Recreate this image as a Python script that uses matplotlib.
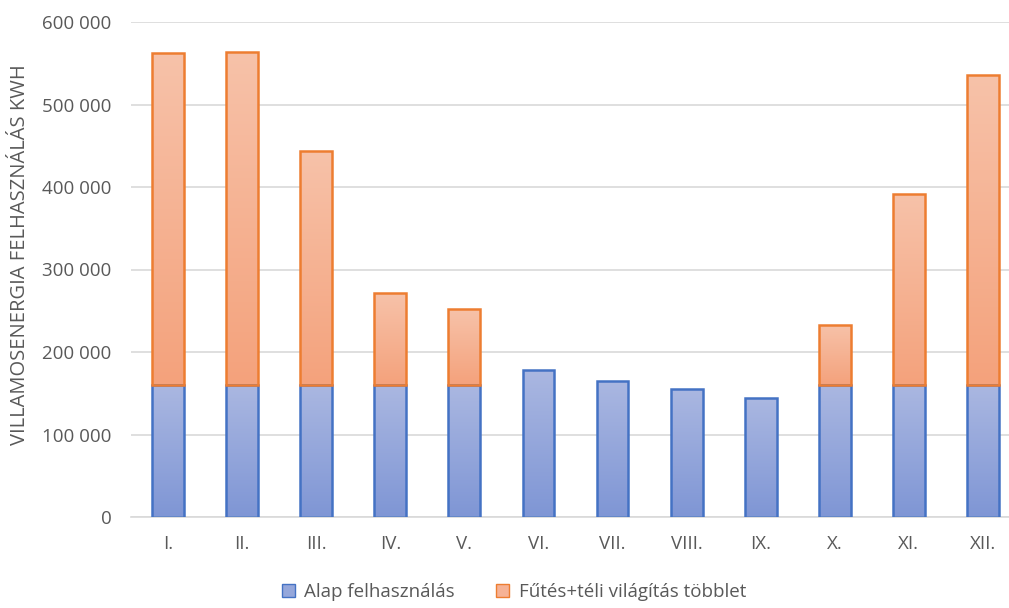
import numpy as np
import matplotlib.pyplot as plt
from matplotlib.colors import LinearSegmentedColormap
from matplotlib.patches import Patch

months = ['I.', 'II.', 'III.', 'IV.', 'V.', 'VI.', 'VII.', 'VIII.', 'IX.', 'X.', 'XI.', 'XII.']
alap = [160000, 160000, 160000, 160000, 160000, 178000, 165000, 155000, 144000, 160000, 160000, 160000]
tobblet = [402000, 404000, 284000, 111500, 92000, 0, 0, 0, 0, 73000, 231500, 376000]

plt.rcParams['font.family'] = ['Open Sans', 'DejaVu Sans']
gray = '#595959'

fig = plt.figure(figsize=(10.09, 6.08), dpi=100)
ax = fig.add_axes([131 / 1009, 91 / 608, 889 / 1009, 495 / 608])

x = np.arange(len(months))
w = 0.43

blue_cmap = LinearSegmentedColormap.from_list('b', ['#7f96d5', '#aab7e1'])
orange_cmap = LinearSegmentedColormap.from_list('o', ['#f4a27c', '#f7c2a9'])
grad = np.linspace(0, 1, 100).reshape(-1, 1)


def gradient_bars(bars, cmap, edge):
    for b in bars:
        if b.get_height() <= 0:
            b.set_visible(False)
            continue
        b.set_facecolor('none')
        b.set_edgecolor(edge)
        b.set_linewidth(1.8)
        b.set_zorder(3)
        x0, y0 = b.get_x(), b.get_y()
        im = ax.imshow(grad, cmap=cmap, origin='lower', aspect='auto',
                       extent=[x0, x0 + b.get_width(), y0, y0 + b.get_height()],
                       zorder=2)
        im.set_clip_path(b)


b1 = ax.bar(x, alap, w)
gradient_bars(b1, blue_cmap, '#4472c4')
b2 = ax.bar(x, tobblet, w, bottom=alap)
gradient_bars(b2, orange_cmap, '#ed7d31')

ax.set_xlim(-0.5, len(months) - 0.5)
ax.set_ylim(0, 600000)
ax.set_yticks(range(0, 600001, 100000))
ax.set_yticklabels(['0' if v == 0 else f'{v // 1000} 000' for v in range(0, 600001, 100000)])
ax.set_xticks(x)
ax.set_xticklabels(months)
ax.tick_params(colors=gray, labelsize=13.5, length=0)
ax.tick_params(axis='x', pad=13)
ax.tick_params(axis='y', pad=14)
ax.grid(axis='y', color='#d9d9d9', linewidth=1.2, zorder=0)
ax.set_axisbelow(True)
for s in ['top', 'right', 'left']:
    ax.spines[s].set_visible(False)
ax.spines['bottom'].set_color('#d9d9d9')
ax.spines['bottom'].set_linewidth(1.2)

fig.text(20 / 1009, 1 - 255 / 608, 'VILLAMOSENERGIA FELHASZNÁLÁS KWH', rotation=90,
         ha='center', va='center', color=gray, fontsize=14.5)

handles = [Patch(facecolor='#95a7db', edgecolor='#4472c4', label='Alap felhasználás'),
           Patch(facecolor='#f6b295', edgecolor='#ed7d31', label='Fűtés+téli világítás többlet')]
fig.legend(handles=handles, loc='center', bbox_to_anchor=(514 / 1009, 1 - 592 / 608), ncol=2,
           frameon=False, fontsize=13.5, labelcolor=gray, handlelength=0.7, handleheight=0.7,
           columnspacing=2.2, handletextpad=0.5)

fig.savefig('out.png', dpi=100)
